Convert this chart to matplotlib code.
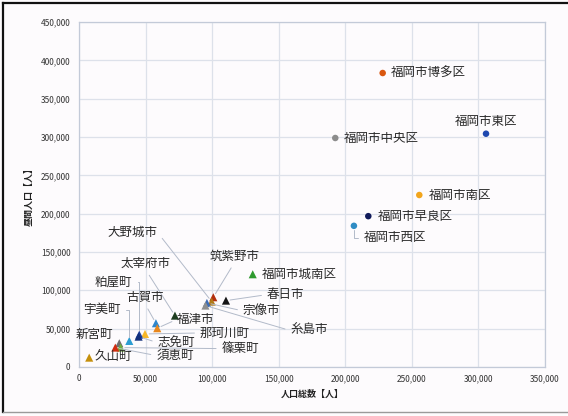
import matplotlib
matplotlib.use("Agg")
import matplotlib.pyplot as plt
from matplotlib.lines import Line2D
from matplotlib.ticker import FuncFormatter, MultipleLocator

plt.rcParams['font.family'] = ['Noto Sans CJK JP', 'DejaVu Sans']

# 福岡市の区（丸）
ward_names = ['福岡市博多区', '福岡市東区', '福岡市中央区', '福岡市南区', '福岡市早良区', '福岡市西区']
ward_pop = [228100, 305700, 192500, 255600, 217300, 206500]
ward_day = [383500, 304300, 298700, 224300, 196700, 184100]
ward_colors = ['#d9570f', '#1f48b0', '#8c8c8c', '#f2a51c', '#101a5a', '#2f8cc4']

# 周辺の市町と城南区（三角）
town_names = ['福岡市城南区', '春日市', '筑紫野市', '大野城市', '宗像市', '糸島市',
              '太宰府市', '古賀市', '福津市', '那珂川町', '粕屋町', '志免町',
              '宇美町', '新宮町', '篠栗町', '須恵町', '久山町']
town_pop = [130500, 110400, 100900, 99700, 96100, 95000,
            72100, 57800, 58800, 49600, 45300, 44800,
            37800, 30300, 31300, 27300, 7700]
town_day = [120900, 86500, 90900, 85200, 83500, 80000,
            66900, 57000, 50500, 43000, 42100, 39500,
            33900, 30900, 25200, 25200, 12100]
town_colors = ['#2e9a2e', '#151515', '#b3300f', '#b07a18', '#3d6cb5', '#8f8f8f',
               '#1d3d1f', '#2f86cc', '#e8861c', '#f6b628', '#1c3e9c', '#12307c',
               '#2c9dd2', '#6e6e6e', '#6fae3c', '#d12c10', '#c5900c']

# ラベルの位置（点からのずれ, px）と引き出し線
label_pos = {
    '福岡市博多区': (8, 0, 'left', None),
    '福岡市東区': (0, 12, 'center', None),
    '福岡市中央区': (9, 0, 'left', None),
    '福岡市南区': (9, 0, 'left', None),
    '福岡市早良区': (9, 0, 'left', None),
    '福岡市西区': (10, -12, 'left', 'elbow'),
    '福岡市城南区': (9, 0, 'left', None),
    '春日市': (41, 6, 'left', 'line'),
    '筑紫野市': (21, 41, 'center', 'up'),
    '大野城市': (-54, 69, 'right', 'line'),
    '宗像市': (36, -8, 'left', 'line'),
    '糸島市': (85, -25, 'left', 'line'),
    '太宰府市': (-29, 52, 'center', 'up'),
    '古賀市': (-11, 26, 'center', 'up'),
    '福津市': (20, 9, 'left', 'line'),
    '那珂川町': (55, 1, 'left', 'line'),
    '粕屋町': (-7, 53, 'right', 'elbow'),
    '志免町': (19, -6, 'left', 'line'),
    '宇美町': (-9, 31, 'right', 'elbow'),
    '新宮町': (-6, 9, 'right', None),
    '篠栗町': (101, -1, 'left', 'line'),
    '須恵町': (41, -8, 'left', 'line'),
    '久山町': (5, 1, 'left', None),
}

fig = plt.figure(figsize=(5.68, 4.16), dpi=100, facecolor='#fdfbfd')
ax = fig.add_axes([0.139, 0.118, 0.8205, 0.829])
ax.set_facecolor('#fdfbfd')

ax.scatter(ward_pop, ward_day, s=22, c=ward_colors, marker='o', zorder=3, linewidths=0)
ax.scatter(town_pop, town_day, s=34, c=town_colors, marker='^', zorder=3, linewidths=0)

all_names = ward_names + town_names
all_pop = ward_pop + town_pop
all_day = ward_day + town_day
for name, px, py in zip(all_names, all_pop, all_day):
    dx, dy, ha, lead = label_pos[name]
    kw = dict(xy=(px, py), xytext=(dx, dy), textcoords='offset pixels',
              ha=ha, va='center', fontsize=9, color='#2a2a2a', zorder=4)
    if lead is not None:
        if lead == 'elbow':
            relpos = (1, 0.5) if ha == 'right' else (0, 0.5)
            cs = 'angle,angleA=0,angleB=90,rad=0'
        elif lead == 'up':
            relpos = (0.5, 0)
            cs = 'arc3'
        else:
            relpos = (1, 0.5) if ha == 'right' else (0, 0.5)
            cs = 'arc3'
        kw['arrowprops'] = dict(arrowstyle='-', color='#b2bac9', lw=0.7,
                                shrinkA=2, shrinkB=3, relpos=relpos,
                                connectionstyle=cs)
    ax.annotate(name, **kw)

ax.set_xlim(0, 350000)
ax.set_ylim(0, 450000)
ax.xaxis.set_major_locator(MultipleLocator(50000))
ax.yaxis.set_major_locator(MultipleLocator(50000))
fmt = FuncFormatter(lambda v, p: '{:,}'.format(int(v)))
ax.xaxis.set_major_formatter(fmt)
ax.yaxis.set_major_formatter(fmt)
ax.tick_params(length=0, labelsize=6, colors='#333333')
ax.tick_params(axis='y', pad=6)
ax.tick_params(axis='x', pad=5)
ax.grid(True, color='#dde1ea', lw=0.9)
ax.set_axisbelow(True)
for sp in ax.spines.values():
    sp.set_color('#c3cad8')
    sp.set_linewidth(0.9)

ax.set_xlabel('人口総数【人】', fontsize=6.5, fontweight='bold', labelpad=5, color='#222222')
ax.set_ylabel('昼間人口【人】', fontsize=6.5, fontweight='bold', labelpad=5, color='#222222')

# 外枠
W, H = 568, 416
fig.add_artist(Line2D([3 / W, 1], [1 - 3 / H, 1 - 3 / H], color='#111111', lw=1.6))
fig.add_artist(Line2D([3 / W, 3 / W], [1 - 412 / H, 1 - 3 / H], color='#111111', lw=1.6))
fig.add_artist(Line2D([3 / W, 1], [1 - 412 / H, 1 - 412 / H], color='#9a9a9a', lw=1.0))

fig.savefig('out.png', dpi=100, facecolor=fig.get_facecolor())
